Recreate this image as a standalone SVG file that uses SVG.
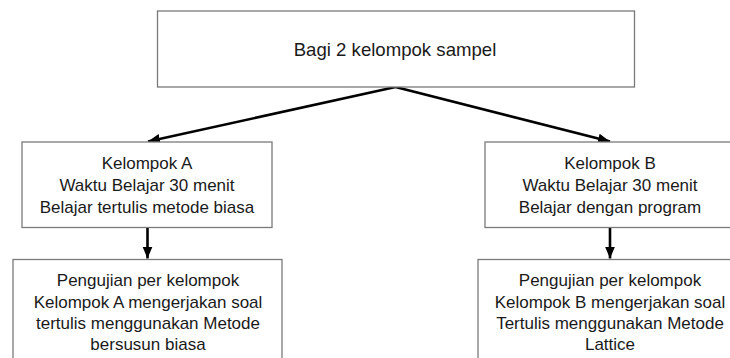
<svg xmlns="http://www.w3.org/2000/svg" width="730" height="358" viewBox="0 0 730 358">
<style>
.box{fill:#ffffff;stroke:#7a7a7a;stroke-width:1.3}
.t{font-family:"Liberation Sans",Arial,sans-serif;font-size:17px;fill:#1a1a1a;text-anchor:middle}
.tt{font-family:"Liberation Sans",Arial,sans-serif;font-size:18.6px;fill:#1a1a1a;text-anchor:middle}
.arr{stroke:#000;stroke-width:2.6;fill:none;marker-end:url(#ah)}
</style>
<defs>
<marker id="ah" markerUnits="userSpaceOnUse" markerWidth="12" markerHeight="12" viewBox="0 0 10 10" refX="10" refY="5" orient="auto">
<path d="M0,0.8 L10,5 L0,9.2 Z" fill="#000"/>
</marker>
</defs>
<rect width="730" height="358" fill="#ffffff"/>
<g id="connectors">
<line class="arr" x1="395.5" y1="87" x2="148" y2="141.5"/>
<line class="arr" x1="395.5" y1="87" x2="610" y2="141.5"/>
<line class="arr" x1="147.5" y1="227.5" x2="147.5" y2="258.5"/>
<line class="arr" x1="610" y1="227.5" x2="610" y2="258.5"/>
</g>
<g id="node-top">
<rect class="box" x="157.5" y="11" width="477" height="76"/>
<text class="tt" x="395" y="56">Bagi 2 kelompok sampel</text>
</g>
<g id="node-a">
<rect class="box" x="22" y="142" width="250" height="85.5"/>
<text class="t" x="147" y="169">Kelompok A</text>
<text class="t" x="147" y="191">Waktu Belajar 30 menit</text>
<text class="t" x="147" y="213">Belajar tertulis metode biasa</text>
</g>
<g id="node-b">
<rect class="box" x="485" y="142" width="250" height="85.5"/>
<text class="t" x="610" y="169">Kelompok B</text>
<text class="t" x="610" y="191">Waktu Belajar 30 menit</text>
<text class="t" x="610" y="213">Belajar dengan program</text>
</g>
<g id="node-a-test">
<rect class="box" x="13" y="259.5" width="269" height="110"/>
<text class="t" x="148" y="286">Pengujian per kelompok</text>
<text class="t" x="148" y="307.5">Kelompok A mengerjakan soal</text>
<text class="t" x="148" y="329">tertulis menggunakan Metode</text>
<text class="t" x="148" y="350">bersusun biasa</text>
</g>
<g id="node-b-test">
<rect class="box" x="478" y="259.5" width="264" height="110"/>
<text class="t" x="610" y="286">Pengujian per kelompok</text>
<text class="t" x="610" y="307.5">Kelompok B mengerjakan soal</text>
<text class="t" x="610" y="329">Tertulis menggunakan Metode</text>
<text class="t" x="610" y="350">Lattice</text>
</g>
</svg>
